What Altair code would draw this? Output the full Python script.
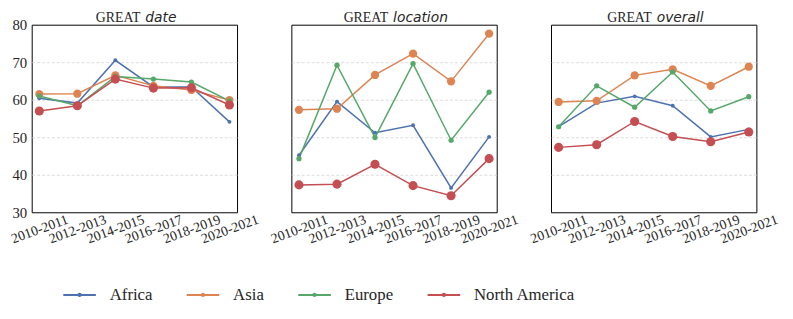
import altair as alt
import pandas as pd

periods = ["2010-2011", "2012-2013", "2014-2015", "2016-2017", "2018-2019", "2020-2021"]
regions = ["Africa", "Asia", "Europe", "North America"]
colors = ["#4C72B0", "#DD8452", "#55A868", "#C44E52"]

date_africa = [60.4, 59.1, 70.5, 63.4, 63.4, 54.1]
date_asia = [61.5, 61.6, 66.5, 63.7, 62.6, 59.9]
date_europe = [61.0, 58.4, 66.2, 65.5, 64.7, 59.7]
date_na = [57.0, 58.4, 65.5, 63.1, 63.2, 58.6]

loc_africa = [45.2, 59.5, 51.2, 53.2, 36.5, 50.1]
loc_asia = [57.3, 57.6, 66.6, 72.3, 64.9, 77.6]
loc_europe = [44.3, 69.2, 49.9, 69.6, 49.2, 62.0]
loc_na = [37.3, 37.5, 42.8, 37.1, 34.4, 44.3]

ov_africa = [52.8, 59.1, 60.9, 58.4, 50.1, 52.1]
ov_asia = [59.4, 59.7, 66.5, 68.1, 63.7, 68.8]
ov_europe = [52.8, 63.7, 58.0, 67.4, 57.0, 60.8]
ov_na = [47.3, 48.0, 54.2, 50.2, 48.8, 51.4]

panels = [
    ("date", [date_africa, date_asia, date_europe, date_na]),
    ("location", [loc_africa, loc_asia, loc_europe, loc_na]),
    ("overall", [ov_africa, ov_asia, ov_europe, ov_na]),
]

W, H = 208, 190
SERIF = "Liberation Serif"
TXT = "#262626"
marker_sizes = {"Africa": 16, "Asia": 70, "Europe": 28, "North America": 85}

# approximate word widths (px) for title placement
great_w = 46.7
word_w = {"date": 31.6, "location": 55.6, "overall": 47.6}

legend_path = ("M-1,0L1,0M-0.07,0A0.07,0.07,0,1,0,0.07,0"
               "A0.07,0.07,0,1,0,-0.07,0")

legend = alt.Legend(
    title=None, orient="none", legendX=31, legendY=256,
    direction="horizontal", columns=4,
    symbolType=legend_path, symbolSize=1089, symbolStrokeWidth=2,
    labelFont=SERIF, labelFontSize=17, labelColor=TXT,
    labelOffset=13, columnPadding=30,
)


def make_panel(word, series, first):
    rows = []
    for reg, vals in zip(regions, series):
        for p, v in zip(periods, vals):
            rows.append({"period": p, "region": reg, "value": v})
    df = pd.DataFrame(rows)

    x = alt.X("period:N", sort=periods,
              scale=alt.Scale(type="point", padding=0.2),
              axis=alt.Axis(title=None, labelAngle=-20, labelAlign="center",
                            labelBaseline="middle", labelPadding=17,
                            ticks=False, domain=False, grid=False,
                            labelFont=SERIF, labelFontSize=14,
                            labelColor=TXT))
    y = alt.Y("value:Q",
              scale=alt.Scale(domain=[30, 80], nice=False, zero=False),
              axis=alt.Axis(title=None, values=[30, 40, 50, 60, 70, 80],
                            labels=first, ticks=False, domain=False,
                            grid=True, gridColor="#d4d4d4", gridDash=[3, 2],
                            gridWidth=0.8,
                            gridOpacity=alt.condition(
                                "datum.value == 30 || datum.value == 80",
                                alt.value(0), alt.value(1)),
                            labelFont=SERIF, labelFontSize=15,
                            labelColor=TXT, labelPadding=5))
    color = alt.Color("region:N",
                      scale=alt.Scale(domain=regions, range=colors),
                      legend=legend)
    fill = alt.Fill("region:N",
                    scale=alt.Scale(domain=regions, range=colors),
                    legend=None)

    base = alt.Chart(df)
    lines = base.mark_line(strokeWidth=1.5).encode(x=x, y=y, color=color)
    pt_layers = [
        base.transform_filter(alt.datum.region == reg).mark_point(
            filled=True, opacity=1, strokeWidth=0,
            size=marker_sizes[reg]).encode(x=x, y=y, fill=fill)
        for reg in regions
    ]

    left = 105 - (great_w + 5 + word_w[word]) / 2
    t1 = alt.Chart().mark_text(text="GREAT", align="right",
                               baseline="alphabetic", font=SERIF,
                               fontSize=14, color=TXT).encode(
        x=alt.value(left + great_w), y=alt.value(-3))
    t2 = alt.Chart().mark_text(text=word, align="left",
                               baseline="alphabetic", font="DejaVu Sans",
                               fontStyle="italic", fontSize=14,
                               color=TXT).encode(
        x=alt.value(left + great_w + 5), y=alt.value(-3))

    return alt.layer(lines, *pt_layers, t1, t2).properties(width=W, height=H)


charts = [make_panel(w, s, i == 0) for i, (w, s) in enumerate(panels)]

chart = alt.hconcat(*charts, spacing=55, bounds="flush").resolve_scale(
    color="shared", fill="shared"
).properties(
    padding={"left": 0, "top": 0, "right": 5, "bottom": 0},
    background="white",
).configure_view(
    stroke="black", strokeWidth=1
)

chart.save("out.html", embed_options={"renderer": "svg", "actions": False})
